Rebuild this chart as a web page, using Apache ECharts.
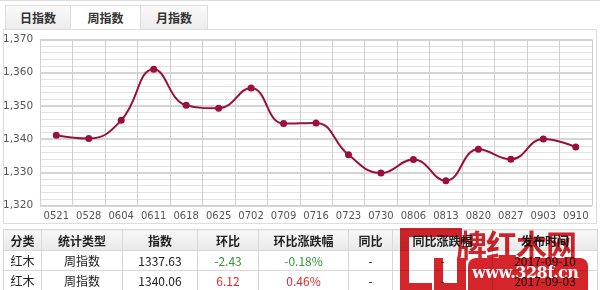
<!DOCTYPE html>
<html><head><meta charset="utf-8">
<script src="https://cdn.jsdelivr.net/npm/echarts@6/dist/echarts.min.js"></script>
<style>
html,body{margin:0;padding:0;width:600px;height:290px;overflow:hidden;background:#fff;font-family:"Noto Sans CJK SC","DejaVu Sans",sans-serif;}
#topline{position:absolute;left:0;top:0;width:600px;height:2px;border-top:1px solid #ddd;}
.tab{position:absolute;top:5px;height:24px;line-height:24px;text-align:center;font-size:12px;font-weight:bold;color:#333;border:1px solid #ddd;border-bottom:none;background:linear-gradient(#fafafa,#ececec);box-sizing:border-box;}
#panel{position:absolute;left:3px;top:29px;width:594px;height:195px;border:1px solid #ddd;box-sizing:border-box;}
#chart{position:absolute;left:0;top:0;width:600px;height:290px;}
table{position:absolute;left:3px;top:229px;border-collapse:collapse;font-size:12px;color:#222;z-index:3;}
td,th{border:1px solid #d8d8d8;text-align:center;padding:0;height:19px;}
th{background:linear-gradient(#f8f8f8,#e8e8e8);font-weight:bold;height:20px;}
.g{color:#2e9b2e}.r{color:#e8262a}
#wm{position:absolute;left:400px;top:226px;width:190px;height:64px;z-index:5;mix-blend-mode:multiply;}
.wmtxt{position:absolute;left:56px;top:-5px;font-size:31px;font-weight:bold;color:#d4252b;letter-spacing:-1px;white-space:nowrap;}
.wmbox{position:absolute;left:68px;top:32px;width:120px;height:34px;background:#d4252b;border-radius:8px 8px 0 0;}
.wmurl{position:absolute;left:72px;top:37px;font-size:16px;font-weight:bold;color:#fff;font-family:"DejaVu Serif",serif;white-space:nowrap;letter-spacing:-0.5px;}
.gg{position:absolute;border:9px solid #d4252b;box-sizing:border-box;}
</style></head><body>
<div id="topline"></div>
<div class="tab" style="left:5px;width:66px;">日指数</div>
<div class="tab" style="left:70px;width:71px;background:#fff;height:25px;">周指数</div>
<div class="tab" style="left:140px;width:68px;">月指数</div>
<div id="panel"></div>
<div id="chart"></div>
<table id="tbl"></table>
<div id="wm">
  <div class="gg" style="left:0;top:2px;width:62px;height:32px;border-right:none;border-bottom:none;"></div>
  <div class="gg" style="left:0;top:32px;width:32px;height:34px;border-right:none;border-top:none;"></div>
  <div class="gg" style="left:34px;top:32px;width:32px;height:34px;border-top:none;"></div>
  <div class="wmtxt">牌红木网</div>
  <div class="wmbox"></div>
  <div class="wmurl">www.328f.cn</div>
</div>
<script>
var categories = ["0521","0528","0604","0611","0618","0625","0702","0709","0716","0723","0730","0806","0813","0820","0827","0903","0910"];
var weekIndex = [1341.2,1340.2,1345.7,1361.0,1350.2,1349.3,1355.4,1344.7,1344.9,1335.3,1329.8,1333.9,1327.5,1337.0,1333.94,1340.06,1337.63];
var yMin = 1320, yMax = 1370, yStep = 10;

var tableHeaders = ["分类","统计类型","指数","环比","环比涨跌幅","同比","同比涨跌幅","发布时间"];
var colWidths = [38,81,75,61,90,44,100,105];
var tableRows = [
  ["红木","周指数","1337.63","-2.43","-0.18%","-","-","2017-09-10"],
  ["红木","周指数","1340.06","6.12","0.46%","-","-","2017-09-03"]
];

var tbl = document.getElementById('tbl');
var h = '<tr>' + tableHeaders.map(function(t,i){return '<th style="width:'+(colWidths[i]-1)+'px">'+t+'</th>';}).join('') + '</tr>';
tableRows.forEach(function(r){
  h += '<tr>' + r.map(function(c,i){
    var cls = '';
    if (i===3||i===4) cls = (parseFloat(c) < 0) ? 'g' : 'r';
    return '<td class="'+cls+'">'+c+'</td>';
  }).join('') + '</tr>';
});
tbl.innerHTML = h;

var chart = echarts.init(document.getElementById('chart'));
chart.setOption({
  animation:false,
  grid:{left:40,top:39.4,width:552,height:166.3,show:false},
  xAxis:{
    type:'category',data:categories,boundaryGap:true,
    axisLine:{show:true,lineStyle:{color:'#c6d4e6',width:1}},
    axisTick:{show:false},
    axisLabel:{interval:0,color:'#555',fontSize:10,margin:6,fontFamily:'DejaVu Sans'},
    splitLine:{show:true,interval:0,lineStyle:{color:'#cfcfcf',width:1}}
  },
  yAxis:{
    type:'value',min:yMin,max:yMax,interval:yStep,
    axisLine:{show:true,lineStyle:{color:'#cfcfcf'}},
    axisTick:{show:false},
    axisLabel:{color:'#555',fontSize:10.5,margin:7,fontFamily:'DejaVu Sans',
      formatter:function(v){return v.toLocaleString('en-US');}},
    splitLine:{show:true,lineStyle:{color:'#d4d4d4',width:2}},
    minorTick:{show:false,splitNumber:5},
    minorSplitLine:{show:true,lineStyle:{color:'#e2e2e2',width:1}}
  },
  series:[{
    type:'line',data:weekIndex,smooth:0.45,
    symbol:'circle',symbolSize:7,
    lineStyle:{color:'#9b0f3c',width:2},
    itemStyle:{color:'#9b0f3c'}
  }]
});
</script>
</body></html>
